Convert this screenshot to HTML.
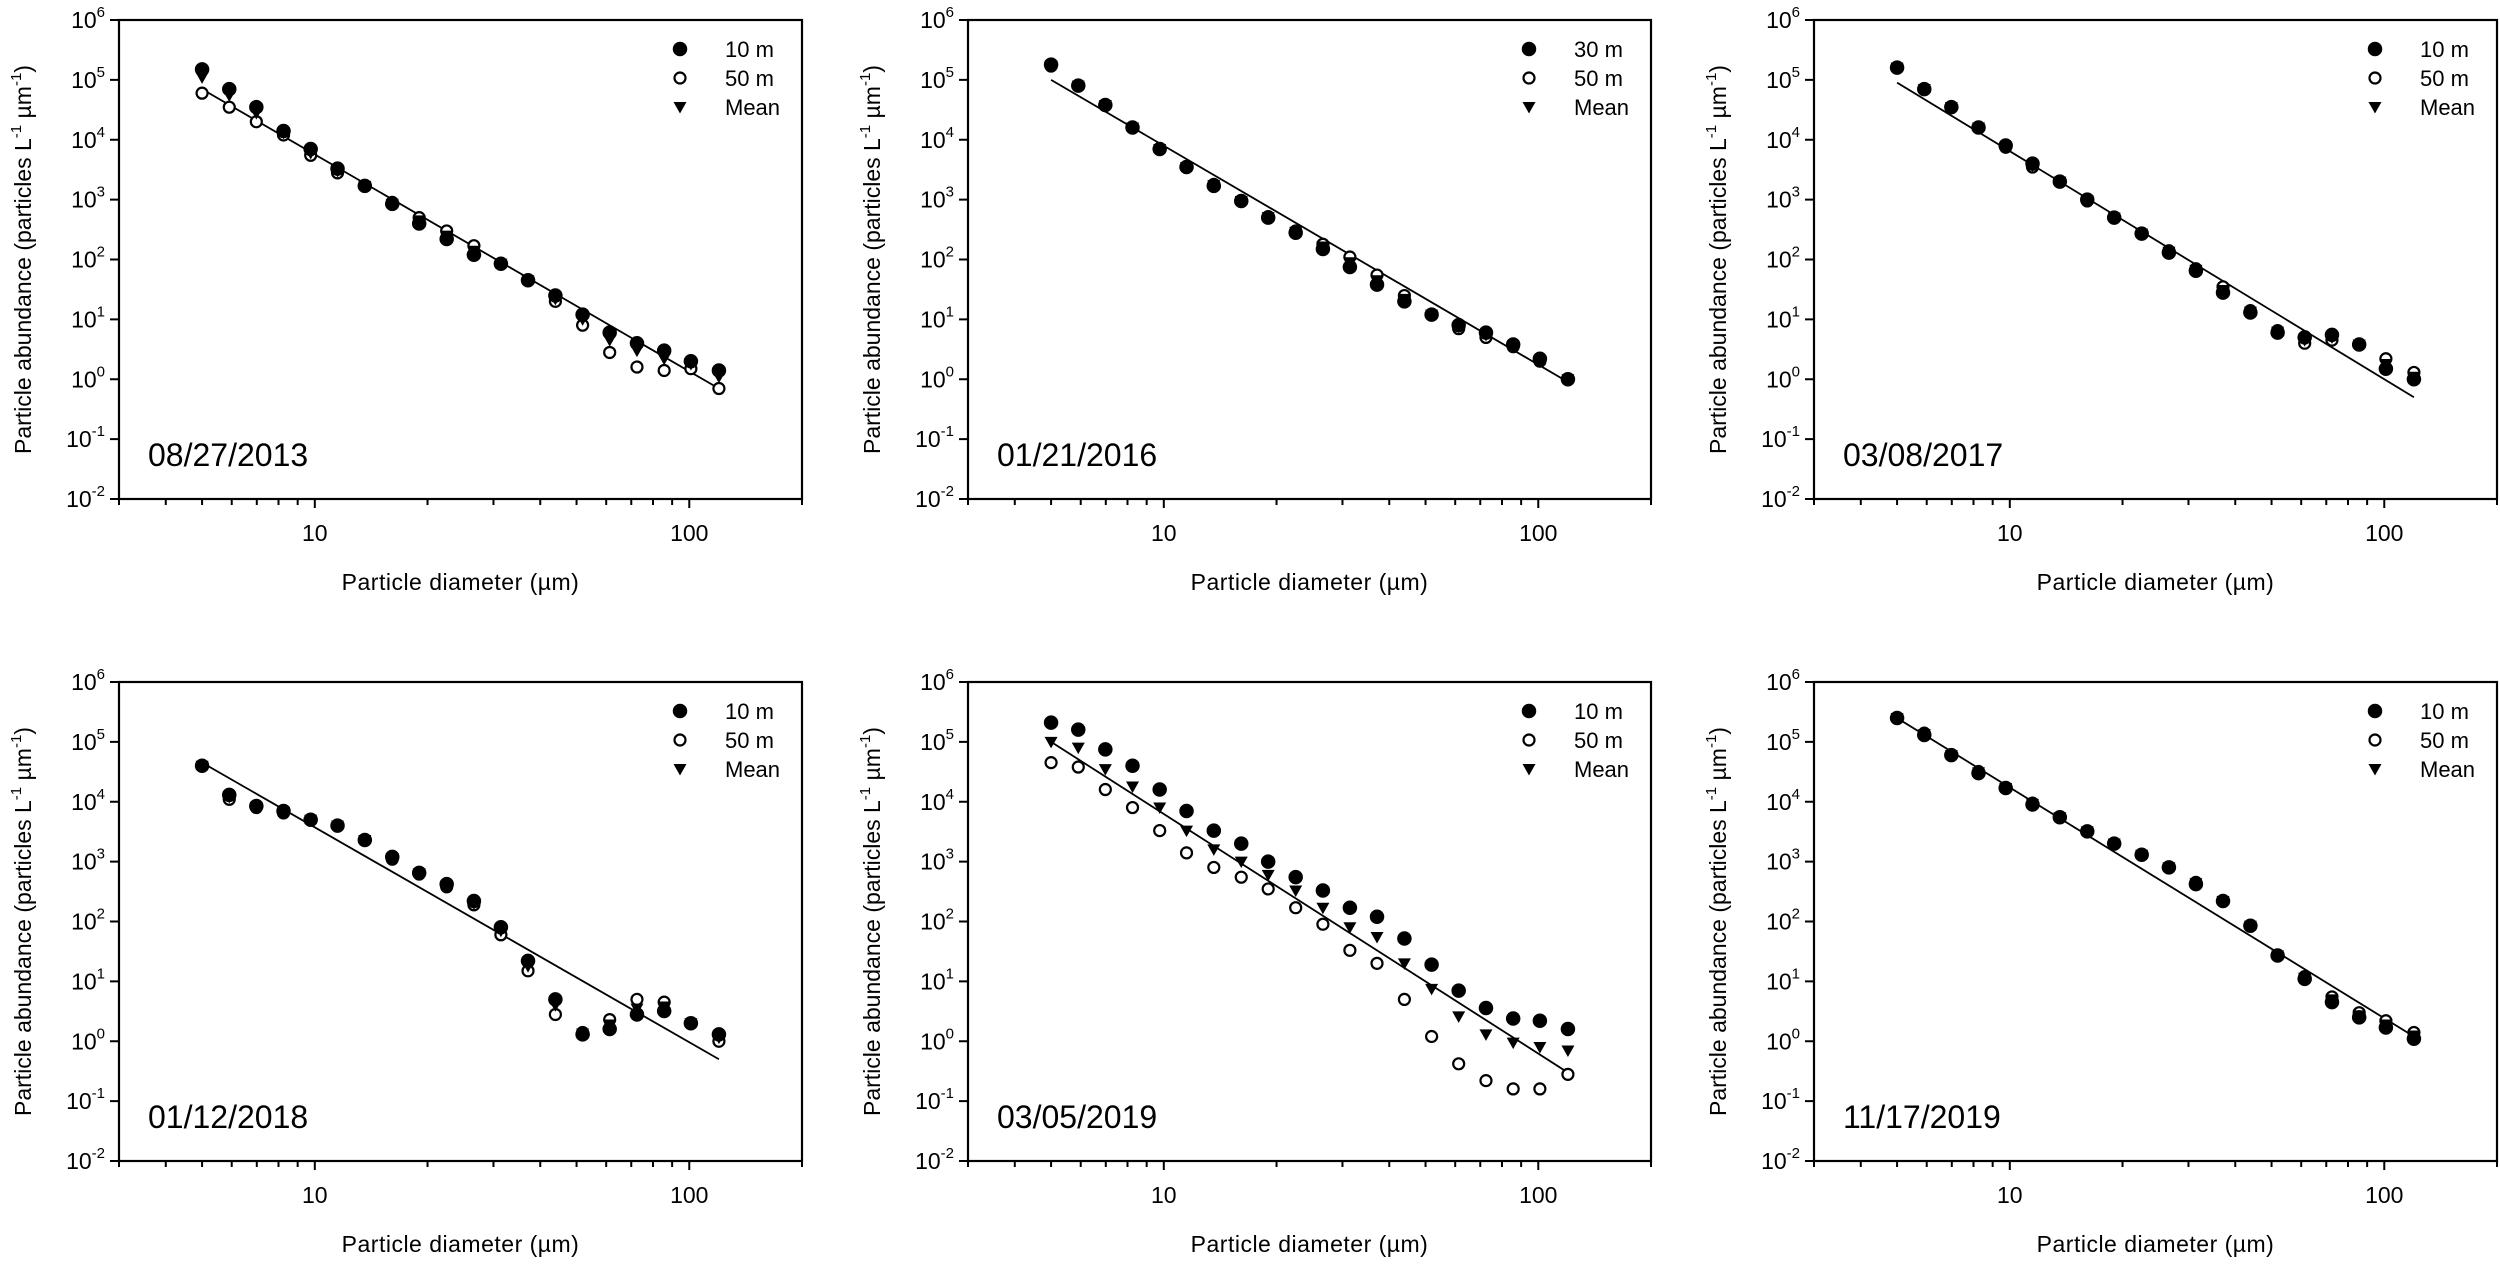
<!DOCTYPE html>
<html><head><meta charset="utf-8">
<style>
html,body{margin:0;padding:0;background:#fff;}
svg{display:block;font-family:"Liberation Sans",Arial,sans-serif;}
</style></head>
<body>
<svg id="fig" width="2500" height="1288" viewBox="0 0 2500 1288" xmlns="http://www.w3.org/2000/svg"></svg>
<script>
const diameters = [5.00,5.91,6.98,8.25,9.75,11.5,13.6,16.1,19.0,22.5,26.6,31.4,37.1,43.9,51.9,61.3,72.5,85.7,101,120];
const xTickLabels = ["10","100"];
const xTickValues = [10,100];
const yTickExps = [-2,-1,0,1,2,3,4,5,6];

const dates = ["08/27/2013","01/21/2016","03/08/2017","01/12/2018","03/05/2019","11/17/2019"];
const legendA = [["10 m","50 m","Mean"],["30 m","50 m","Mean"],["10 m","50 m","Mean"],["10 m","50 m","Mean"],["10 m","50 m","Mean"],["10 m","50 m","Mean"]];

const p1Shallow = [1.5e5,7e4,3.5e4,1.4e4,7e3,3.3e3,1.7e3,850,400,220,120,85,45,25,12,6,4,3,2,1.4];
const p1Deep    = [6e4,3.5e4,2e4,1.2e4,5.5e3,2.8e3,1.7e3,900,500,300,170,85,45,20,8,2.8,1.6,1.4,1.5,0.7];
const p1Mean    = [1.1e5,5.5e4,2.8e4,1.3e4,6e3,3e3,1.7e3,850,450,250,140,85,45,22,10,4.5,3,2.2,1.8,1.1];
const p1Fit     = [7e4,0.7];

const p2Shallow = [1.8e5,8e4,3.8e4,1.6e4,7e3,3.5e3,1.7e3,950,500,280,150,75,38,20,12,8,6,3.8,2.2,1.0];
const p2Deep    = [1.7e5,8e4,3.8e4,1.6e4,7e3,3.5e3,1.8e3,950,520,300,180,110,55,25,12,7,5,3.5,2.0,1.0];
const p2Mean    = [1.75e5,8e4,3.8e4,1.6e4,7e3,3.5e3,1.75e3,950,510,290,165,90,45,22,12,7.5,5.5,3.6,2.1,1.0];
const p2Fit     = [1e5,0.9];

const p3Shallow = [1.6e5,7e4,3.5e4,1.6e4,8e3,4e3,2e3,1e3,500,270,130,65,28,13,6,5,5.5,3.8,1.5,1.0];
const p3Deep    = [1.6e5,7e4,3.5e4,1.6e4,7.5e3,3.5e3,2e3,950,500,270,140,70,35,14,6.5,4,4.5,3.8,2.2,1.3];
const p3Mean    = [1.6e5,7e4,3.5e4,1.6e4,7.7e3,3.7e3,2e3,970,500,270,135,67,31,13.5,6.2,4.5,5,3.8,1.8,1.1];
const p3Fit     = [9e4,0.5];

const p4Shallow = [4e4,1.3e4,8.5e3,7e3,5e3,4e3,2.3e3,1.2e3,650,420,220,80,22,5,1.3,1.6,2.8,3.2,2,1.3];
const p4Deep    = [4e4,1.1e4,8e3,6.5e3,5e3,4e3,2.3e3,1.1e3,620,380,190,60,15,2.8,1.4,2.3,5,4.5,2,1.0];
const p4Mean    = [4e4,1.2e4,8.2e3,6.8e3,5e3,4e3,2.3e3,1.15e3,635,400,200,70,18,4,1.35,1.9,3.5,3.8,2,1.15];
const p4Fit     = [4.5e4,0.5];

const p5Shallow = [2.1e5,1.6e5,7.5e4,4e4,1.6e4,7e3,3.3e3,2e3,1e3,550,330,170,120,52,19,7,3.6,2.4,2.2,1.6];
const p5Deep    = [4.5e4,3.8e4,1.6e4,8e3,3.3e3,1.4e3,800,550,350,170,90,33,20,5,1.2,0.42,0.22,0.16,0.16,0.28];
const p5Mean    = [1e5,8e4,3.5e4,1.8e4,8e3,3.3e3,1.6e3,1e3,600,330,170,80,55,20,7.5,2.6,1.3,0.95,0.8,0.7];
const p5Fit     = [1e5,0.3];

const p6Shallow = [2.5e5,1.3e5,6e4,3e4,1.7e4,9e3,5.5e3,3.2e3,2e3,1.3e3,800,420,220,85,27,11,4.5,2.5,1.7,1.1];
const p6Deep    = [2.5e5,1.4e5,6e4,3.2e4,1.7e4,9.5e3,5.5e3,3.2e3,2e3,1.3e3,800,450,220,85,27,12,5.5,3,2.2,1.4];
const p6Mean    = [2.5e5,1.35e5,6e4,3.1e4,1.7e4,9.2e3,5.5e3,3.2e3,2e3,1.3e3,800,435,220,85,27,11.5,5,2.7,1.9,1.25];
const p6Fit     = [2.5e5,1.2];

const shallowSeries = [p1Shallow,p2Shallow,p3Shallow,p4Shallow,p5Shallow,p6Shallow];
const deepSeries = [p1Deep,p2Deep,p3Deep,p4Deep,p5Deep,p6Deep];
const meanSeries = [p1Mean,p2Mean,p3Mean,p4Mean,p5Mean,p6Mean];
const fitSeries = [p1Fit,p2Fit,p3Fit,p4Fit,p5Fit,p6Fit];
const fitRange = [5,120];

const NS = "http://www.w3.org/2000/svg";
const svg = document.getElementById('fig');
function mk(tag, attrs, parent){const e=document.createElementNS(NS,tag);for(const k in attrs)e.setAttribute(k,attrs[k]);(parent||svg).appendChild(e);return e;}

const panelLeft = [119,968,1814];
const panelTop = [20,682];
const PW = 683, PH = 479;
const XMIN = Math.log10(3), XMAX = Math.log10(200);

function drawMarker(g, type, cx, cy){
  let m;
  if(type===0){ m=mk('circle',{cx:cx,cy:cy,r:6.5,fill:'#000',stroke:'#000','stroke-width':1.5},g); }
  else if(type===1){ m=mk('circle',{cx:cx,cy:cy,r:5.5,fill:'#fff',stroke:'#000','stroke-width':2.2},g); }
  else { m=mk('path',{d:`M${cx-6.5},${cy-5} L${cx+6.5},${cy-5} L${cx},${cy+6.5} Z`,fill:'#000'},g); }
  return m;
}

for(let p=0;p<6;p++){
  const L = panelLeft[p%3], T = panelTop[Math.floor(p/3)];
  const xs = v => L + (Math.log10(v)-XMIN)/(XMAX-XMIN)*PW;
  const ys = v => T + (6-Math.log10(v))/8*PH;
  const g = mk('g',{});
  
  
  const frame = mk('rect',{x:L,y:T,width:PW,height:PH,fill:'none',stroke:'#000','stroke-width':2.2},g);
  
  
  // y ticks
  yTickExps.forEach(e=>{
    const y = ys(Math.pow(10,e));
    const t = mk('line',{x1:L-9,x2:L,y1:y,y2:y,stroke:'#000','stroke-width':2},g);
    
    
    const tx = mk('text',{x:L-14,y:y+8,'text-anchor':'end','font-size':23,fill:'#000'},g);
    
    
    tx.textContent='10';
    const sp = mk('tspan',{dy:-11,'font-size':15},tx);
    sp.textContent = String(e);
  });
  // x ticks
  for(let d=0; d<=2; d++){
    for(let k=1;k<=9;k++){
      const v = k*Math.pow(10,d);
      if(v<3||v>200) continue;
      const x = xs(v);
      const len = (k===1)?9:6;
      const t = mk('line',{x1:x,x2:x,y1:T+PH,y2:T+PH+len,stroke:'#000','stroke-width':2},g);
      
      
    }
  }
  xTickValues.forEach((v,i)=>{
    const tx = mk('text',{x:xs(v),y:T+PH+42,'text-anchor':'middle','font-size':23,fill:'#000'},g);
    
    
    tx.textContent = xTickLabels[i];
  });
  const xt = mk('text',{x:L+PW/2,y:T+PH+91,'text-anchor':'middle','font-size':23,fill:'#000','letter-spacing':'0.5'},g);
  
  
  xt.textContent='Particle diameter (\u00b5m)';
  const yt = mk('text',{x:0,y:0,'text-anchor':'middle','font-size':23,fill:'#000',transform:`translate(${L-88},${T+PH/2}) rotate(-90)`},g);
  
  
  yt.textContent='Particle abundance (particles L';
  const s1 = mk('tspan',{dy:-10,'font-size':15},yt); s1.textContent='-1';
  const s2 = mk('tspan',{dy:10},yt); s2.textContent=' \u00b5m';
  const s3 = mk('tspan',{dy:-10,'font-size':15},yt); s3.textContent='-1';
  const s4 = mk('tspan',{dy:10},yt); s4.textContent=')';
  const dl = mk('text',{x:L+29,y:T+PH-33,'font-size':32,fill:'#000'},g);
  
  
  dl.textContent = dates[p];
  // fit line
  const fit = mk('line',{x1:xs(fitRange[0]),y1:ys(fitSeries[p][0]),x2:xs(fitRange[1]),y2:ys(fitSeries[p][1]),stroke:'#000','stroke-width':1.8},g);
  
  
  // points
  [deepSeries[p],shallowSeries[p],meanSeries[p]].forEach((ser,si)=>{
    const type = [1,0,2][si];
    ser.forEach((v,i)=>{
      const m = drawMarker(g,type,xs(diameters[i]),ys(v));
      
      
    });
  });
  // legend
  for(let r=0;r<3;r++){
    const ly = T+29+r*29;
    const m = drawMarker(g,r,L+561,ly);
    
    
    const lt = mk('text',{x:L+606,y:ly+8,'font-size':22,fill:'#000'},g);
    
    
    lt.textContent = legendA[p][r];
  }
}
</script>
</body></html>
